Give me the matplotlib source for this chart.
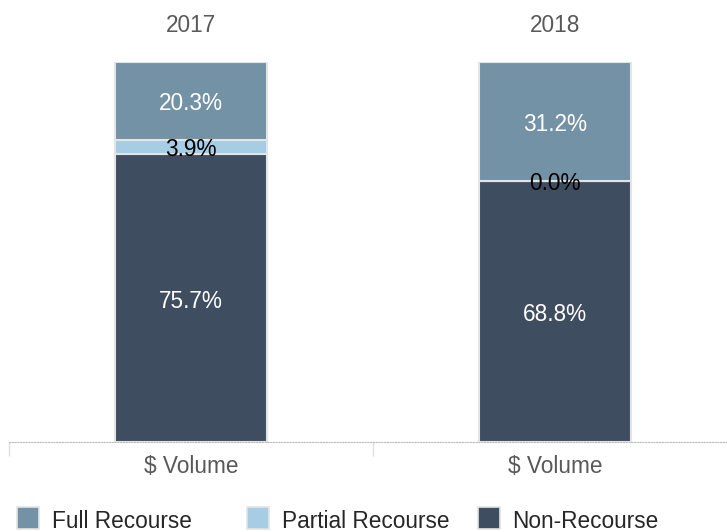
import matplotlib
matplotlib.use("Agg")
import matplotlib.pyplot as plt
from matplotlib.patches import Rectangle
import matplotlib.transforms as mtransforms

plt.rcParams['font.family'] = ['Liberation Sans', 'DejaVu Sans']

years = ["2017", "2018"]
category_label = "$ Volume"
series_names = ["Non-Recourse", "Partial Recourse", "Full Recourse"]
legend_order = ["Full Recourse", "Partial Recourse", "Non-Recourse"]
non_recourse = [75.7, 68.8]
partial_recourse = [3.9, 0.0]
full_recourse = [20.3, 31.2]

colors = {"Full Recourse": "#7392a5", "Partial Recourse": "#a6cde3", "Non-Recourse": "#3e4d60"}
label_colors = {"Full Recourse": "white", "Partial Recourse": "black", "Non-Recourse": "white"}
FS = 16.3

W, H = 727, 532
fig = plt.figure(figsize=(W / 100, H / 100), dpi=100)
ax = fig.add_axes([9 / W, (H - 442) / H, (W - 9) / W, 380 / H])

panel_px = 364
xs = [0.5, 1.5]
bar_w = 152 / panel_px
ax.set_xlim(0, (W - 9) / panel_px)
ax.set_ylim(0, 100)

down = mtransforms.ScaledTranslation(0, -3 / 100, fig.dpi_scale_trans)
tr = ax.transData + down

series_vals = {"Non-Recourse": non_recourse, "Partial Recourse": partial_recourse, "Full Recourse": full_recourse}
bottoms = [0.0, 0.0]
for name in series_names:
    vals = series_vals[name]
    ax.bar(xs, vals, width=bar_w, bottom=bottoms, color=colors[name],
           edgecolor="#e4e4e4", linewidth=1.5, zorder=2)
    for x, b, v in zip(xs, bottoms, vals):
        ax.text(x, b + v / 2, f"{v:.1f}%", ha="center", va="center", transform=tr,
                color=label_colors[name], fontsize=FS, zorder=3)
    bottoms = [b + v for b, v in zip(bottoms, vals)]

for x, y in zip(xs, years):
    ax.text(x, 110.3, y, ha="center", va="center", color="#595959", fontsize=FS,
            transform=tr, clip_on=False)

for s in ["top", "right", "left"]:
    ax.spines[s].set_visible(False)
ax.spines["bottom"].set_linestyle((0, (1, 1.5)))
ax.spines["bottom"].set_color("#bbbbbb")
ax.spines["bottom"].set_linewidth(0.8)
ax.set_yticks([])
ax.set_xticks(xs)
ax.set_xticklabels([category_label] * len(xs), color="#595959", fontsize=FS)
ax.tick_params(axis="x", which="major", length=0, pad=9.5)
ax.set_xticks([0, 1], minor=True)
ax.tick_params(axis="x", which="minor", length=10, color="#e0e0e0", width=1)

# legend (figure pixel positions)
patch_x = [17, 247, 478]
text_x = [52, 282, 512]
for name, px, tx in zip(legend_order, patch_x, text_x):
    fig.patches.append(Rectangle((px / W, (H - 529) / H), 22 / W, 22 / H,
                                 transform=fig.transFigure, facecolor=colors[name],
                                 edgecolor="#e4e4e4", linewidth=1.2))
    fig.text(tx / W, (H - 518) / H, name, ha="left", va="center", fontsize=FS,
             color="#262626", transform=fig.transFigure + down)

fig.savefig("out.png", dpi=100)
